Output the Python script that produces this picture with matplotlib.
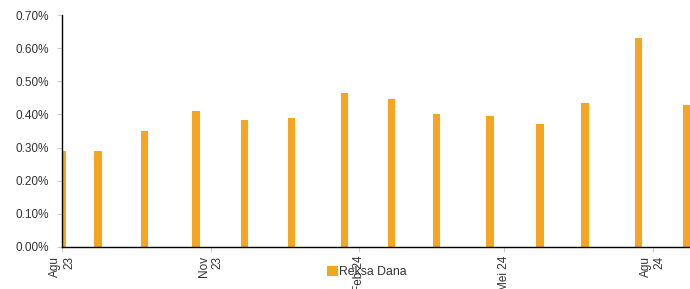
import matplotlib
matplotlib.use("Agg")
import matplotlib.pyplot as plt
import matplotlib.dates as mdates
from matplotlib.patches import Patch
import numpy as np
import pandas as pd

plt.rcParams['font.family'] = ['Liberation Sans', 'DejaVu Sans']

# ---- data ----
dates = ["2023-08-01", "2023-08-23", "2023-09-21", "2023-10-23", "2023-11-22",
         "2023-12-21", "2024-01-23", "2024-02-21", "2024-03-20", "2024-04-22",
         "2024-05-23", "2024-06-20", "2024-07-23", "2024-08-22"]
values = [0.290, 0.290, 0.351, 0.410, 0.383, 0.389, 0.464, 0.446, 0.400,
          0.395, 0.370, 0.434, 0.631, 0.430]
tick_dates = ["2023-08-01", "2023-11-01", "2024-02-01", "2024-05-01", "2024-08-01"]
tick_labels = ["Agu\n23", "Nov\n23", "Feb 24", "Mei 24", "Agu\n24"]
series_name = "Reksa Dana"

bar_color = "#F5A51F"
text_color = "#333333"

x = pd.to_datetime(dates)
fig = plt.figure(figsize=(6.9, 2.89), dpi=100)
ax = fig.add_axes([0.0903, 0.1463, 0.9097, 0.8007])

ax.bar(x, values, width=4.7, color=bar_color, edgecolor="none", zorder=2)

ax.set_xlim(pd.Timestamp("2023-08-01"), pd.Timestamp("2024-08-24"))
ax.set_ylim(0, 0.70)
ax.set_yticks(np.arange(0, 0.71, 0.10))
ax.set_yticklabels([f"{v:.2f}%" for v in np.arange(0, 0.71, 0.10)])

ax.set_xticks(pd.to_datetime(tick_dates))
ax.set_xticklabels(tick_labels, rotation=90, ha="center", va="top",
                   multialignment="right")

for s in ["top", "right"]:
    ax.spines[s].set_visible(False)
ax.spines["left"].set_color("black")
ax.spines["bottom"].set_color("black")
ax.spines["left"].set_linewidth(1.0)
ax.spines["bottom"].set_linewidth(1.0)

ax.tick_params(axis="y", length=3.5, color="#cccccc", labelsize=8.5,
               labelcolor=text_color, pad=6)
ax.tick_params(axis="x", length=3.5, color="#cccccc", labelsize=8.5,
               labelcolor=text_color, pad=3)

handle = Patch(facecolor=bar_color, edgecolor="none")
fig.legend([handle], [series_name], loc="center",
           bbox_to_anchor=(367 / 690, 1 - 272 / 289), frameon=False,
           fontsize=8.8, handlelength=0.9, handleheight=0.9,
           handletextpad=0.1, borderpad=0, labelcolor=text_color)

fig.savefig("out.png", dpi=100)
